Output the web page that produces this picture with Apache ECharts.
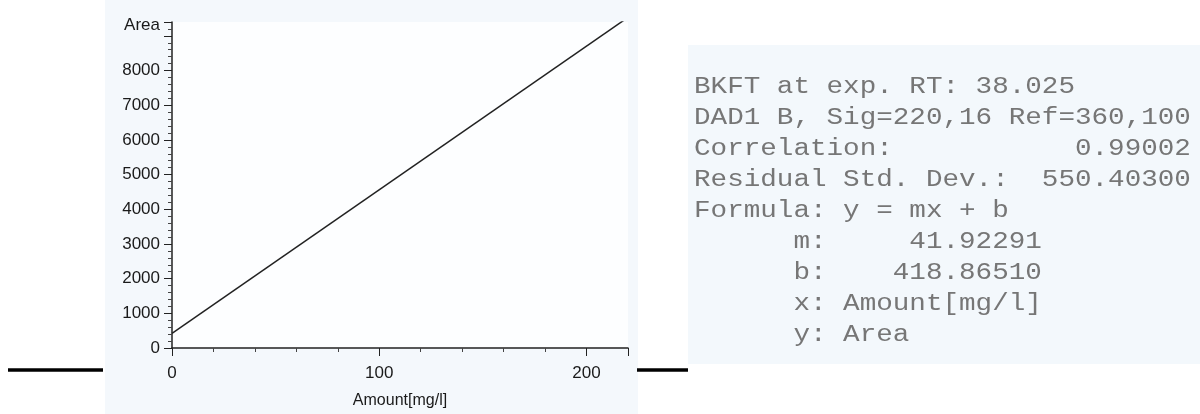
<!DOCTYPE html>
<html>
<head>
<meta charset="utf-8">
<script src="https://cdn.jsdelivr.net/npm/echarts@6/dist/echarts.min.js"></script>
<style>
  html, body { margin: 0; padding: 0; background: #fff; }
  #chart { width: 1200px; height: 414px; }
</style>
</head>
<body>
<div id="chart"></div>
<script>
// calibration line: [Amount, Area]
var lineX = [0, 218];
var lineY = [420, 9450];

var yTicks = [0, 1000, 2000, 3000, 4000, 5000, 6000, 7000, 8000];
var xTicks = [0, 100, 200];

// report lines next to the curve
var reportLines = [
  'BKFT at exp. RT: 38.025',
  'DAD1 B, Sig=220,16 Ref=360,100',
  'Correlation:           0.99002',
  'Residual Std. Dev.:  550.40300',
  'Formula: y = mx + b',
  '      m:     41.92291',
  '      b:    418.86510',
  '      x: Amount[mg/l]',
  '      y: Area'
];

var points = lineX.map(function(x, i) {
  return [x, lineY[i]];
});

var graphics = [
  {
    type: 'rect', z: -10, silent: true,
    shape: { x: 105, y: 0, width: 533, height: 414 },
    style: { fill: '#f4f8fc' }
  },
  {
    type: 'rect', z: -10, silent: true,
    shape: { x: 688, y: 45, width: 512, height: 319 },
    style: { fill: '#f3f8fc' }
  },
  {
    type: 'line', silent: true,
    shape: { x1: 8, y1: 370, x2: 103, y2: 370 },
    style: { stroke: '#000', lineWidth: 3.5 }
  },
  {
    type: 'line', silent: true,
    shape: { x1: 637, y1: 370, x2: 688, y2: 370 },
    style: { stroke: '#000', lineWidth: 3.5 }
  }
];

reportLines.forEach(function(t, i) {
  graphics.push({
    type: 'text', silent: true,
    x: 694, y: 87 + i * 31, scaleX: 1.2,
    style: {
      text: t,
      font: '23px "Liberation Mono", monospace',
      fill: '#767676',
      verticalAlign: 'middle'
    }
  });
});

var labelFont = { fontFamily: 'Liberation Sans', fontSize: 17, color: '#1a1a1a' };

var chart = echarts.init(document.getElementById('chart'));
chart.setOption({
  animation: false,
  backgroundColor: '#fff',
  grid: {
    left: 172, right: 572, top: 22, bottom: 63,
    show: true, backgroundColor: '#fdfeff', borderWidth: 0
  },
  xAxis: {
    type: 'value',
    min: 0, max: 220, interval: 100,
    name: 'Amount[mg/l]',
    nameLocation: 'middle',
    nameGap: 45,
    nameTextStyle: { fontFamily: 'Liberation Sans', fontSize: 16, color: '#1a1a1a' },
    axisLine: { show: true, onZero: false, lineStyle: { color: '#222', width: 1.5 } },
    axisTick: { show: true, inside: false, length: 8, lineStyle: { color: '#222' } },
    minorTick: { show: true, splitNumber: 5, length: 4, lineStyle: { color: '#444' } },
    axisLabel: {
      margin: 17, fontFamily: labelFont.fontFamily, fontSize: labelFont.fontSize, color: labelFont.color,
      showMaxLabel: false,
      formatter: function(v) { return xTicks.indexOf(v) >= 0 ? String(v) : ''; }
    },
    splitLine: { show: false }
  },
  yAxis: {
    type: 'value',
    min: 0, max: 9400, interval: 1000,
    name: 'Area',
    nameLocation: 'end',
    nameGap: -3,
    nameTextStyle: {
      fontFamily: 'Liberation Sans', fontSize: 17, color: '#1a1a1a',
      align: 'right', verticalAlign: 'middle', padding: [0, 12, 0, 0]
    },
    axisLine: { show: true, lineStyle: { color: '#222', width: 1.5 } },
    axisTick: { show: true, inside: false, length: 8, lineStyle: { color: '#222' } },
    minorTick: { show: true, splitNumber: 5, length: 4, lineStyle: { color: '#444' } },
    axisLabel: {
      margin: 12, fontFamily: labelFont.fontFamily, fontSize: labelFont.fontSize, color: labelFont.color,
      formatter: function(v) { return yTicks.indexOf(v) >= 0 ? String(v) : ''; }
    },
    splitLine: { show: false }
  },
  series: [
    {
      type: 'line',
      data: points,
      symbol: 'none',
      lineStyle: { color: '#222', width: 1.5 }
    }
  ],
  graphic: graphics
});
</script>
</body>
</html>
